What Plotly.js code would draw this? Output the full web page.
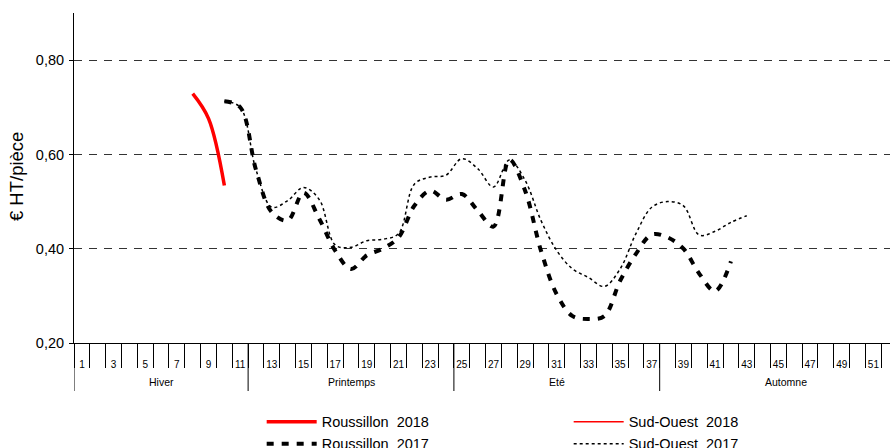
<!DOCTYPE html>
<html>
<head>
<meta charset="utf-8">
<script src="https://cdn.plot.ly/plotly-3.0.1.min.js"></script>
<style>html,body{margin:0;padding:0;background:#fff;}#chart{width:890px;height:448px;}</style>
</head>
<body>
<div id="chart"></div>
<script>
// ---- data ----
const weeksR2018 = [8, 9, 10];
const valsR2018 = [0.729, 0.676, 0.534];

const weeksSO2018 = [null];
const valsSO2018 = [null];

const weeks2017 = [10,11,12,13,14,15,16,17,18,19,20,21,22,23,24,25,26,27,28,29,30,31,32,33,34,35,36,37,38,39,40,41,42];
const valsR2017 = [0.713,0.700,0.567,0.477,0.460,0.519,0.463,0.396,0.357,0.386,0.400,0.424,0.491,0.523,0.504,0.516,0.481,0.447,0.589,0.523,0.396,0.303,0.257,0.251,0.257,0.332,0.389,0.430,0.424,0.400,0.347,0.310,0.373];

const weeksSO2017 = [10,11,12,13,14,15,16,17,18,19,20,21,22,23,24,25,26,27,28,29,30,31,32,33,34,35,36,37,38,39,40,41,42,43];
const valsSO2017 = [0.713,0.700,0.567,0.488,0.502,0.530,0.504,0.408,0.403,0.417,0.420,0.432,0.537,0.552,0.556,0.591,0.570,0.531,0.588,0.545,0.460,0.396,0.357,0.339,0.320,0.357,0.432,0.488,0.500,0.491,0.429,0.437,0.456,0.470];

const weekLabels = [];
for (let w = 1; w <= 51; w += 2) weekLabels.push(String(w));
const weekLabelPos = weekLabels.map(Number);

const seasons = ['Hiver', 'Printemps', 'Eté', 'Automne'];
const seasonFirstWeek = [1, 12, 25, 38];
const seasonLastWeek = [11, 24, 37, 53];

const yTicks = [0.20, 0.40, 0.60, 0.80];

// ---- traces ----
const traces = [
  {x: weeksR2018, y: valsR2018, name: 'Roussillon  2018', type: 'scatter', mode: 'lines',
   line: {color: '#FF0000', width: 3.5, shape: 'spline'}},
  {x: weeksSO2018, y: valsSO2018, name: 'Sud-Ouest  2018', type: 'scatter', mode: 'lines',
   line: {color: '#FF0000', width: 1.5, shape: 'spline'}},
  {x: weeks2017, y: valsR2017, name: 'Roussillon  2017', type: 'scatter', mode: 'lines',
   line: {color: '#000000', width: 4, dash: '7px,8px', shape: 'spline'}},
  {x: weeksSO2017, y: valsSO2017, name: 'Sud-Ouest  2017', type: 'scatter', mode: 'lines',
   line: {color: '#000000', width: 1.5, dash: '3px,3px', shape: 'spline'}}
];

// ---- season separators and labels ----
const shapes = [];
const annotations = [];
const seasonTickLen = 48 / 330;
seasons.forEach((s, i) => {
  const x0 = seasonFirstWeek[i] - 0.5;
  const x1 = seasonLastWeek[i] + 0.5;
  shapes.push({type: 'line', xref: 'x', yref: 'paper', x0: x0, x1: x0, y0: 0, y1: -seasonTickLen,
               line: {color: '#000', width: 1}});
  annotations.push({text: s, xref: 'x', yref: 'paper', x: (x0 + x1) / 2, y: -0.119,
                    showarrow: false, xanchor: 'center', yanchor: 'middle',
                    font: {size: 10.5, color: '#000'}});
});
annotations.push({text: '€ HT/pièce', xref: 'paper', yref: 'paper', x: -0.071, y: 0.503,
                  textangle: -90, showarrow: false, xanchor: 'center', yanchor: 'middle',
                  font: {size: 18.5, color: '#000'}});

const layout = {
  width: 890, height: 448,
  margin: {l: 74, r: 0, t: 13, b: 105},
  paper_bgcolor: '#fff', plot_bgcolor: '#fff',
  separators: ',.',
  font: {family: 'Liberation Sans, Arial, sans-serif', color: '#000', size: 14.5},
  showlegend: true,
  legend: {orientation: 'h', x: 0.230, xanchor: 'left', yref: 'container', y: 0.094, yanchor: 'top',
           font: {size: 14.5}, entrywidth: 242, itemwidth: 50, traceorder: 'normal', bgcolor: 'rgba(0,0,0,0)'},
  xaxis: {range: [0.5, 52.05], showline: true, linecolor: '#000', linewidth: 1,
          tickmode: 'array', tickvals: weekLabelPos, ticktext: weekLabels, ticks: '',
          tickfont: {size: 10}, ticklabelstandoff: 12, showgrid: false, zeroline: false,
          minor: {tickmode: 'linear', tick0: 0.5, dtick: 1, ticks: 'outside', ticklen: 24,
                  tickcolor: '#000', tickwidth: 1, showgrid: false}},
  yaxis: {range: [0.2, 0.9], tickmode: 'array', tickvals: yTicks, tickformat: '.2f',
          ticks: 'outside', ticklen: 4, tickcolor: '#000', showline: true, linecolor: '#000',
          showgrid: true, gridcolor: '#333', gridwidth: 1, griddash: '8px,7px', zeroline: false,
          tickfont: {size: 14.5}, ticklabelstandoff: 2},
  shapes: shapes,
  annotations: annotations
};

Plotly.newPlot('chart', traces, layout, {staticPlot: true, displayModeBar: false});
</script>
</body>
</html>
